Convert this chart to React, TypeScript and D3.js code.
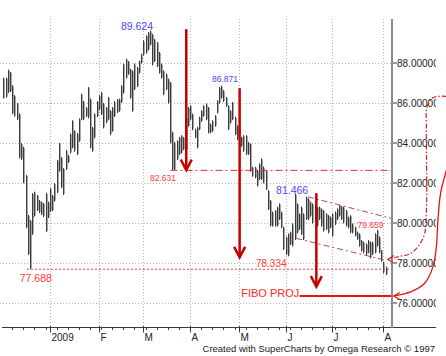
import React from "react";
import * as d3 from "d3";

// Daily bar highs / lows, Dec 2008 – early Aug 2009
const highs = [
  87.27, 87.27, 87.67, 87.55, 86.89, 86.39, 86.0, 85.48, 84.0, 83.81,
  82.4, 80.4, 80.15, 81.49, 81.57, 81.4, 81.15, 81.07, 81.0, 81.5,
  81.07, 81.74, 81.4, 82.0, 83.15, 84.0, 83.3, 82.75, 83.65, 83.4,
  84.48, 85.14, 84.64, 84.5, 85.23, 86.47, 86.1, 85.8, 86.8, 86.22,
  84.8, 85.48, 86.1, 86.39, 86.55, 86.0, 85.8, 86.3, 85.64, 85.8,
  86.1, 86.2, 86.22, 86.89, 87.97, 88.22, 88.1, 87.72,
  87.63, 87.97, 87.8, 88.13, 88.47, 89.13, 89.38, 89.55, 89.624, 89.46,
  89.21, 89.05, 88.55, 87.97, 87.63, 87.47, 87.22, 87.05, 84.56, 84.06,
  84.14, 84.31, 84.39, 84.31, 85.31, 85.8, 85.89, 85.47, 84.72, 84.81,
  85.31, 85.64, 85.89, 85.97, 85.8, 84.97, 85.14, 85.39, 86.14, 86.8,
  86.871, 86.64, 86.3, 85.89, 85.64, 86.05, 85.31, 84.89, 84.64, 84.31,
  84.39, 84.39, 84.06, 83.98, 82.81, 82.81, 82.65, 82.98,
  83.23, 82.82, 82.65, 81.65, 81.15, 80.57, 80.65, 80.82, 80.98, 80.57,
  79.82, 79.32, 79.48, 79.57, 79.98, 81.466, 80.98, 80.48, 80.82, 80.48,
  81.32, 81.23, 81.07, 80.98, 80.9, 80.82, 80.82, 80.73, 80.65, 80.48,
  80.4, 80.32, 80.48, 80.57, 80.73, 80.9, 80.85, 80.82, 80.65, 80.32,
  80.4, 79.98, 79.82, 79.57, 79.48, 79.15, 79.07, 78.98, 79.15, 79.07,
  79.07, 79.48, 79.659, 79.32, 78.65, 78.07, 77.82,
];
const lows = [
  86.22, 86.27, 86.5, 86.55, 85.44, 85.31, 85.14, 83.23, 83.15, 81.98,
  79.74, 78.4, 77.688, 79.41, 80.32, 80.6, 80.5, 80.4, 80.3, 79.55,
  80.24, 80.55, 80.6, 81.07, 81.5, 82.56, 81.74, 81.4, 82.65, 83.0,
  83.48, 83.73, 83.56, 83.4, 84.06, 85.14, 85.14, 85.3, 85.23, 83.73,
  83.56, 84.23, 85.3, 85.64, 85.4, 84.73, 85.0, 85.14, 84.4, 84.56,
  85.3, 85.5, 85.56, 86.0, 86.47, 87.22, 87.4, 86.22,
  85.56, 86.64, 86.8, 87.47, 87.97, 88.38, 88.47, 88.63, 88.88, 87.88,
  88.05, 87.8, 87.47, 87.22, 86.39, 86.64, 85.97, 83.98, 82.65, 82.631,
  83.15, 83.4, 83.48, 83.64, 83.64, 84.81, 85.14, 84.64, 84.23, 83.73,
  84.64, 85.06, 85.31, 85.14, 84.48, 84.48, 84.56, 84.81, 85.47, 85.97,
  86.22, 86.05, 85.8, 84.64, 84.97, 85.14, 84.39, 84.14, 84.31, 83.81,
  83.56, 83.4, 83.4, 82.56, 82.31, 82.23, 81.82, 82.15,
  82.15, 81.98, 81.65, 80.65, 79.82, 79.82, 79.82, 79.82, 80.15, 79.73,
  78.65, 78.4, 78.334, 78.9, 78.82, 79.15, 79.48, 79.65, 79.4, 79.15,
  80.15, 80.15, 80.32, 79.98, 80.15, 79.82, 80.15, 79.82, 79.57, 79.65,
  79.48, 79.73, 79.32, 79.9, 80.15, 80.32, 80.15, 79.98, 79.82, 79.73,
  79.48, 79.48, 79.32, 79.15, 78.82, 78.57, 78.48, 78.4, 78.48, 78.23,
  78.4, 78.48, 78.82, 78.48, 78.07, 77.48, 77.4,
];

const monthLabels = ["2009", "F", "M", "A", "M", "J", "J", "A"];
const monthStarts = [21, 43, 63, 84, 106, 127, 148, 171];
const yTicks = [76, 78, 80, 82, 84, 86, 88];

// Swing labels
const swingIdx = [66, 98, 77, 131, 168, 128, 12];
const swingValue = [89.624, 86.871, 82.631, 81.466, 79.659, 78.334, 77.688];
const swingIsHigh = [true, true, false, true, false, false, false];

// Projection arrows
const arrowIdx = [82.3, 106.3, 140.8];
const arrowFrom = [89.69, 86.74, 81.49];
const arrowTo = [82.65, 78.28, 76.82];

const fiboLevel = 76.35;
const fiboStartIdx = 133.3;
const supportLevel = 82.631;
const lowLevel = 77.688;

const upperChannel: [number, number][] = [[137, 81.31], [174.5, 80.23]];
const lowerChannel: [number, number][] = [[131.8, 79.23], [171.5, 78.15]];

const solidCurve: [number, number][] = [
  [201, 83.2], [199.1, 82.55], [196.7, 81.49], [195.5, 80.15], [194.8, 78.82],
  [193.3, 77.82], [189.5, 76.99], [183.5, 76.57], [175.6, 76.35],
];
const dashCurve: [number, number][] = [
  [199.5, 86.33], [193.5, 86.28], [190.7, 85.85], [190.3, 84.6], [190.3, 80.65],
  [189.0, 79.3], [183.5, 78.5], [177, 78.3], [173, 78.18],
];

export default function App() {
  const W = 446, H = 356;
  const n = highs.length;
  const x = d3.scaleLinear().domain([0, n - 1]).range([3.3, 385.7]);
  const y = d3.scaleLinear().domain([76, 88]).range([303, 63]);
  const axisX = 392;
  const top = 19;
  const axisY = 327.5;
  const font = "'Liberation Sans', Arial, Helvetica, sans-serif";

  const line = d3.line<[number, number]>().x(d => x(d[0])).y(d => y(d[1]));
  const curve = d3
    .line<[number, number]>()
    .x(d => x(d[0]))
    .y(d => y(d[1]))
    .curve(d3.curveCatmullRom.alpha(0.5));

  const minorTicks = d3.range(4, n, 5).filter(i => !monthStarts.includes(i));

  const labelSpecs = [
    { dx: 3, dy: -0.5, size: 10.5, anchor: "end" },
    { dx: 3.8, dy: -4, size: 8.5, anchor: "middle" },
    { dx: -11.5, dy: 10.3, size: 8.5, anchor: "middle" },
    { dx: -2.4, dy: 0.3, size: 10.5, anchor: "middle" },
    { dx: -6.3, dy: -1.5, size: 8.5, anchor: "middle" },
    { dx: -16.6, dy: 10.4, size: 10, anchor: "middle" },
    { dx: 5.8, dy: 12.5, size: 10.5, anchor: "middle" },
  ];

  const solidTip = solidCurve[solidCurve.length - 1];
  const sx = x(solidTip[0]), sy = y(solidTip[1]);
  const dashTip = dashCurve[dashCurve.length - 1];
  const dx0 = x(dashTip[0]), dy0 = y(dashTip[1]);

  return (
    <svg
      width={W}
      height={H}
      style={{ position: "fixed", left: 0, top: 0, background: "#fff" }}
      fontFamily={font}
    >
      <defs>
        <clipPath id="lblclip">
          <rect x={axisX} y={0} width={436 - axisX} height={H} />
        </clipPath>
      </defs>
      <rect x={0} y={0} width={W} height={H} fill="#fff" />

      {/* grid */}
      {yTicks.map(t => (
        <line key={"hg" + t} x1={0} x2={axisX - 1} y1={Math.round(y(t)) + 0.5} y2={Math.round(y(t)) + 0.5}
          stroke="#b4b4b4" strokeDasharray="1,2" />
      ))}
      {monthStarts.map(i => (
        <line key={"vg" + i} x1={Math.round(x(i)) + 0.5} x2={Math.round(x(i)) + 0.5} y1={top} y2={axisY}
          stroke="#b4b4b4" strokeDasharray="1,2" />
      ))}

      {/* bars */}
      {highs.map((h, i) => {
        const px = Math.round(x(i)) + 0.5;
        const y1 = y(h), y2 = y(lows[i]);
        return (
          <g key={"b" + i}>
            <line x1={px + 1} x2={px + 1} y1={y1 + 1} y2={y2 - 1} stroke="#a8a8a8" />
            <line x1={px} x2={px} y1={y1} y2={y2} stroke="#3c3c3c" />
          </g>
        );
      })}

      {/* horizontal levels */}
      <line x1={x(swingIdx[6]) - 3} x2={axisX} y1={y(lowLevel)} y2={y(lowLevel)}
        stroke="#ff3b3b" strokeDasharray="2,2" />
      <line x1={x(swingIdx[2]) - 4} x2={axisX} y1={y(supportLevel)} y2={y(supportLevel)}
        stroke="#dd3030" strokeDasharray="7,3,2,3" />

      {/* channel */}
      <path d={line(upperChannel) || ""} fill="none" stroke="#b84848" strokeDasharray="6,3,2,3" />
      <path d={line(lowerChannel) || ""} fill="none" stroke="#b84848" strokeDasharray="6,3,2,3" />

      {/* arrows */}
      {arrowIdx.map((ai, k) => {
        const ax = x(ai);
        const y0 = y(arrowFrom[k]);
        const y1 = y(arrowTo[k]);
        return (
          <g key={"ar" + k} stroke="#c40000" strokeWidth={2.5} fill="none">
            <line x1={ax} x2={ax} y1={y0} y2={y1 - 1} />
            <path d={`M${ax - 5.5},${y1 - 10.5} L${ax},${y1} L${ax + 5.5},${y1 - 10.5}`} />
          </g>
        );
      })}

      {/* fibo projection */}
      <line x1={x(fiboStartIdx)} x2={axisX} y1={y(fiboLevel)} y2={y(fiboLevel)} stroke="#e81414" strokeWidth={2} />
      <text x={x(fiboStartIdx) - 58.5} y={y(fiboLevel) + 1.3} fontSize={11} fill="#ff2a2a">FIBO PROJ</text>

      {/* axes */}
      <line x1={2} x2={436} y1={axisY} y2={axisY} stroke="#3a3a3a" />
      {monthStarts.map(i => (
        <line key={"mt" + i} x1={Math.round(x(i)) + 0.5} x2={Math.round(x(i)) + 0.5} y1={axisY - 1.5} y2={axisY + 5}
          stroke="#3a3a3a" />
      ))}
      {minorTicks.map(i => (
        <line key={"mn" + i} x1={Math.round(x(i)) + 0.5} x2={Math.round(x(i)) + 0.5} y1={axisY} y2={axisY + 2.5}
          stroke="#3a3a3a" />
      ))}
      {monthLabels.map((m, k) => (
        <text key={"ml" + k} x={Math.round(x(monthStarts[k])) + 1.5} y={340.5} fontSize={10} fill="#222">{m}</text>
      ))}
      <line x1={axisX} x2={axisX} y1={top} y2={axisY + 0.5} stroke="#8c8c8c" strokeWidth={2} />
      {yTicks.map(t => (
        <line key={"yt" + t} x1={axisX + 1} x2={axisX + 5} y1={y(t)} y2={y(t)} stroke="#333" />
      ))}
      <g clipPath="url(#lblclip)">
        {yTicks.map(t => (
          <text key={"yl" + t} x={397} y={y(t) + 3.6} fontSize={10} fill="#222">{t.toFixed(5)}</text>
        ))}
      </g>

      {/* swing labels */}
      {swingIdx.map((si, k) => {
        const s = labelSpecs[k];
        return (
          <text key={"sl" + k} x={x(si) + s.dx} y={y(swingValue[k]) + s.dy} fontSize={s.size}
            textAnchor={s.anchor as any} fill={swingIsHigh[k] ? "#4848ff" : "#ff3c3c"}>
            {swingValue[k].toFixed(3)}
          </text>
        );
      })}

      {/* curved annotation arrows */}
      <path d={curve(solidCurve) || ""} fill="none" stroke="#e81414" strokeWidth={1.3} />
      <path d={`M${sx + 6},${sy - 3.5} L${sx},${sy} L${sx + 6},${sy + 3.5}`} fill="none" stroke="#e81414" strokeWidth={1.3} />
      <path d={curve(dashCurve) || ""} fill="none" stroke="#d02020" strokeWidth={1.2} strokeDasharray="5,2,1.5,2" />
      <path d={`M${dx0 + 6},${dy0 - 4} L${dx0},${dy0} L${dx0 + 5},${dy0 + 3}`} fill="none" stroke="#d02020" strokeWidth={1.2} />

      <text x={435} y={351.5} fontSize={9.5} textAnchor="end" fill="#222">
        Created with SuperCharts by Omega Research © 1997
      </text>
    </svg>
  );
}
